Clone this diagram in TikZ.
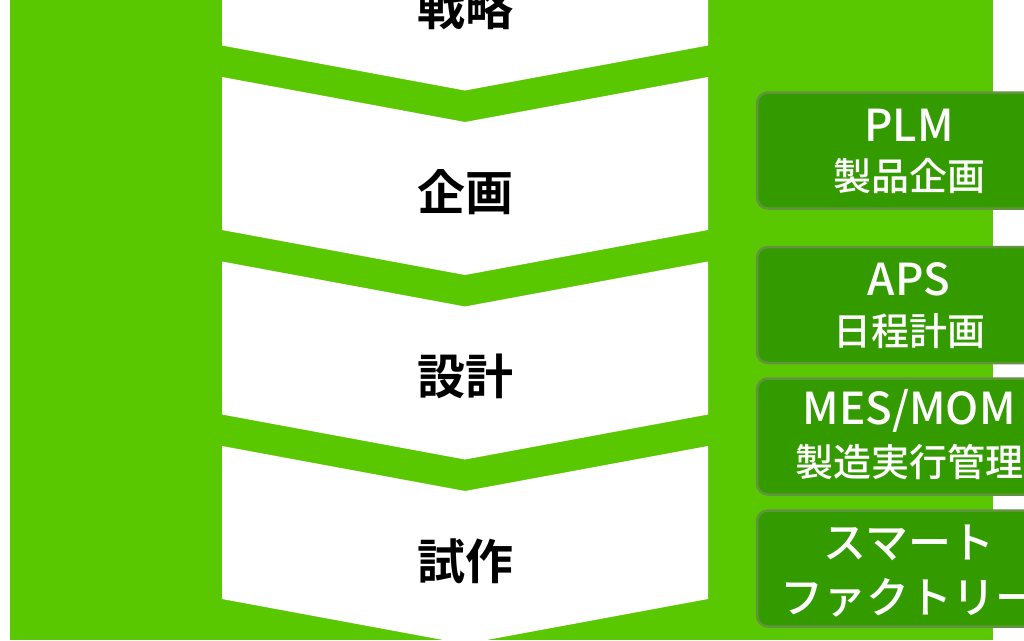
\documentclass[tikz,border=0pt]{standalone}
\usepackage{fontspec}
\newfontfamily\jpfont{Noto Sans CJK JP}[BoldFont={Noto Sans CJK JP Bold}]
\newfontfamily\jpmedium{Noto Sans CJK JP Medium}
\usetikzlibrary{positioning}
\definecolor{leafgreen}{RGB}{90,200,0}
\definecolor{darkgreen}{RGB}{51,154,0}
\definecolor{boxedge}{RGB}{98,148,62}
\tikzset{stagetext/.style={font=\jpfont\bfseries\fontsize{48}{48}\selectfont, text=black, inner sep=0pt},systembox/.style={rounded corners=11pt, fill=darkgreen, draw=boxedge, line width=2.5pt, minimum width=304pt, minimum height=116pt, inner sep=0pt}}
\tikzset{boxtop/.style={font=\jpmedium\fontsize{44}{44}\selectfont, text=white, inner sep=0pt},boxbottom/.style={font=\jpmedium\fontsize{38}{38}\selectfont, text=white, inner sep=0pt}}

\begin{document}
\begin{tikzpicture}[
        x=1pt, y=-1pt,
        bigtext/.style={font=\jpmedium\fontsize{43}{43}\selectfont, text=white, inner sep=0pt}
    ]
        \useasboundingbox (0,0) rectangle (1024,640);
        \clip (0,0) rectangle (1024,640);
        % Background
        \fill[white] (0,0) rectangle (1024,640);
        \fill[leafgreen] (10,0) rectangle (993,640);
        % Stages
        \foreach \t/\stage/\name in {
            -107.5/戦略/senryaku,
            77/企画/kikaku,
            261.5/設計/sekkei,
            446/試作/shisaku} {
            \fill[white] (222,\t) -- (465,\t+45) -- (708,\t) -- (708,\t+153) -- (465,\t+198) -- (222,\t+153) -- cycle;
            \node[stagetext] (\name) at (465,\t+115) {\stage};
        }
        % Systems
        \node[systembox] (plm) at (909,150.5) {};
        \node[systembox] (aps) at (909,305) {};
        \node[systembox] (mes) at (909,436.5) {};
        \node[systembox] (factory) at (909,568.5) {};
        \node[boxtop] (plmtitle) at (909,125.5) {PLM};
        \node[boxbottom] (plmtext) at (909,176) {製品企画};
        \node[boxtop] (apstitle) at (909,279.5) {APS};
        \node[boxbottom] (apstext) at (909,331) {日程計画};
        \node[boxtop] (mestitle) at (909,410.5) {MES/MOM};
        \node[boxbottom] (mestext) at (909,461.5) {製造実行管理};
        \node[bigtext] (factorytitle) at (909,543) {スマート};
        \node[bigtext] (factorytext) at (909,598) {ファクトリー};
    \end{tikzpicture}
\end{document}
